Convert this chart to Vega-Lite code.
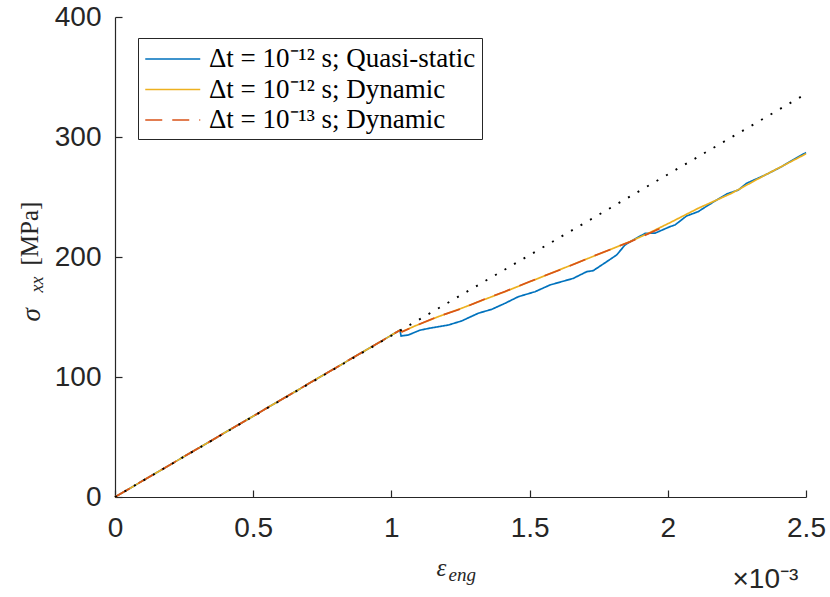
{
  "$schema": "https://vega.github.io/schema/vega-lite/v6.json",
  "width": 691,
  "height": 480,
  "autosize": {"type": "none"},
  "padding": {"left": 115, "top": 17, "right": 24, "bottom": 100},
  "background": "white",
  "config": {
    "view": {"stroke": null},
    "axis": {"grid": false, "domainColor": "#262626", "tickColor": "#262626", "labelColor": "#262626", "titleColor": "#262626", "domainWidth": 1.2, "tickWidth": 1.2},
    "legend": {
      "orient": "none", "legendX": 23, "legendY": 21, "title": null,
      "symbolType": "M-1,0L3,0", "symbolSize": 756, "symbolStrokeWidth": 1.6,
      "labelFont": "Liberation Serif", "labelFontSize": 27, "labelColor": "#000000", "labelLimit": 0, "labelOffset": 35,
      "padding": 6, "rowPadding": 2.5, "strokeColor": "#262626", "fillColor": "white"
    }
  },
  "datasets": {
    "curves": [
      {"series": "Δt = 10⁻¹² s; Quasi-static", "strain": 0, "stress": 0},
      {"series": "Δt = 10⁻¹² s; Quasi-static", "strain": 1.031, "stress": 139.0},
      {"series": "Δt = 10⁻¹² s; Quasi-static", "strain": 1.035, "stress": 134.2},
      {"series": "Δt = 10⁻¹² s; Quasi-static", "strain": 1.061, "stress": 135.0},
      {"series": "Δt = 10⁻¹² s; Quasi-static", "strain": 1.103, "stress": 139.0},
      {"series": "Δt = 10⁻¹² s; Quasi-static", "strain": 1.146, "stress": 141.0},
      {"series": "Δt = 10⁻¹² s; Quasi-static", "strain": 1.206, "stress": 143.3},
      {"series": "Δt = 10⁻¹² s; Quasi-static", "strain": 1.254, "stress": 146.7},
      {"series": "Δt = 10⁻¹² s; Quasi-static", "strain": 1.314, "stress": 153.1},
      {"series": "Δt = 10⁻¹² s; Quasi-static", "strain": 1.363, "stress": 156.4},
      {"series": "Δt = 10⁻¹² s; Quasi-static", "strain": 1.411, "stress": 161.4},
      {"series": "Δt = 10⁻¹² s; Quasi-static", "strain": 1.459, "stress": 166.9},
      {"series": "Δt = 10⁻¹² s; Quasi-static", "strain": 1.52, "stress": 171.1},
      {"series": "Δt = 10⁻¹² s; Quasi-static", "strain": 1.574, "stress": 176.7},
      {"series": "Δt = 10⁻¹² s; Quasi-static", "strain": 1.658, "stress": 182.2},
      {"series": "Δt = 10⁻¹² s; Quasi-static", "strain": 1.707, "stress": 187.8},
      {"series": "Δt = 10⁻¹² s; Quasi-static", "strain": 1.73, "stress": 188.6},
      {"series": "Δt = 10⁻¹² s; Quasi-static", "strain": 1.779, "stress": 196.1},
      {"series": "Δt = 10⁻¹² s; Quasi-static", "strain": 1.815, "stress": 201.7},
      {"series": "Δt = 10⁻¹² s; Quasi-static", "strain": 1.845, "stress": 210.0},
      {"series": "Δt = 10⁻¹² s; Quasi-static", "strain": 1.875, "stress": 214.2},
      {"series": "Δt = 10⁻¹² s; Quasi-static", "strain": 1.918, "stress": 219.7},
      {"series": "Δt = 10⁻¹² s; Quasi-static", "strain": 1.954, "stress": 219.9},
      {"series": "Δt = 10⁻¹² s; Quasi-static", "strain": 2.008, "stress": 225.3},
      {"series": "Δt = 10⁻¹² s; Quasi-static", "strain": 2.026, "stress": 226.7},
      {"series": "Δt = 10⁻¹² s; Quasi-static", "strain": 2.068, "stress": 234.2},
      {"series": "Δt = 10⁻¹² s; Quasi-static", "strain": 2.11, "stress": 237.8},
      {"series": "Δt = 10⁻¹² s; Quasi-static", "strain": 2.147, "stress": 243.3},
      {"series": "Δt = 10⁻¹² s; Quasi-static", "strain": 2.213, "stress": 252.5},
      {"series": "Δt = 10⁻¹² s; Quasi-static", "strain": 2.255, "stress": 255.8},
      {"series": "Δt = 10⁻¹² s; Quasi-static", "strain": 2.285, "stress": 261.4},
      {"series": "Δt = 10⁻¹² s; Quasi-static", "strain": 2.352, "stress": 268.3},
      {"series": "Δt = 10⁻¹² s; Quasi-static", "strain": 2.376, "stress": 271.1},
      {"series": "Δt = 10⁻¹² s; Quasi-static", "strain": 2.412, "stress": 275.3},
      {"series": "Δt = 10⁻¹² s; Quasi-static", "strain": 2.448, "stress": 280.3},
      {"series": "Δt = 10⁻¹² s; Quasi-static", "strain": 2.5, "stress": 287.0},

      {"series": "Δt = 10⁻¹² s; Dynamic", "strain": 0, "stress": 0},
      {"series": "Δt = 10⁻¹² s; Dynamic", "strain": 1.031, "stress": 139.0},
      {"series": "Δt = 10⁻¹² s; Dynamic", "strain": 1.039, "stress": 137.8},
      {"series": "Δt = 10⁻¹² s; Dynamic", "strain": 1.085, "stress": 142.5},
      {"series": "Δt = 10⁻¹² s; Dynamic", "strain": 1.17, "stress": 150.3},
      {"series": "Δt = 10⁻¹² s; Dynamic", "strain": 1.254, "stress": 157.3},
      {"series": "Δt = 10⁻¹² s; Dynamic", "strain": 1.339, "stress": 164.8},
      {"series": "Δt = 10⁻¹² s; Dynamic", "strain": 1.411, "stress": 171.1},
      {"series": "Δt = 10⁻¹² s; Dynamic", "strain": 1.501, "stress": 179.4},
      {"series": "Δt = 10⁻¹² s; Dynamic", "strain": 1.622, "stress": 190.6},
      {"series": "Δt = 10⁻¹² s; Dynamic", "strain": 1.743, "stress": 201.7},
      {"series": "Δt = 10⁻¹² s; Dynamic", "strain": 1.863, "stress": 212.8},
      {"series": "Δt = 10⁻¹² s; Dynamic", "strain": 1.93, "stress": 219.8},
      {"series": "Δt = 10⁻¹² s; Dynamic", "strain": 2.008, "stress": 228.6},
      {"series": "Δt = 10⁻¹² s; Dynamic", "strain": 2.11, "stress": 240.6},
      {"series": "Δt = 10⁻¹² s; Dynamic", "strain": 2.231, "stress": 253.1},
      {"series": "Δt = 10⁻¹² s; Dynamic", "strain": 2.352, "stress": 268.3},
      {"series": "Δt = 10⁻¹² s; Dynamic", "strain": 2.5, "stress": 286.0},

      {"series": "Δt = 10⁻¹³ s; Dynamic", "strain": 0, "stress": 0},
      {"series": "Δt = 10⁻¹³ s; Dynamic", "strain": 1.031, "stress": 139.0},
      {"series": "Δt = 10⁻¹³ s; Dynamic", "strain": 1.039, "stress": 137.6},
      {"series": "Δt = 10⁻¹³ s; Dynamic", "strain": 1.085, "stress": 142.4},
      {"series": "Δt = 10⁻¹³ s; Dynamic", "strain": 1.17, "stress": 150.5},
      {"series": "Δt = 10⁻¹³ s; Dynamic", "strain": 1.254, "stress": 157.0},
      {"series": "Δt = 10⁻¹³ s; Dynamic", "strain": 1.339, "stress": 165.0},
      {"series": "Δt = 10⁻¹³ s; Dynamic", "strain": 1.411, "stress": 171.3},
      {"series": "Δt = 10⁻¹³ s; Dynamic", "strain": 1.501, "stress": 179.6},
      {"series": "Δt = 10⁻¹³ s; Dynamic", "strain": 1.622, "stress": 190.4},
      {"series": "Δt = 10⁻¹³ s; Dynamic", "strain": 1.743, "stress": 201.9},
      {"series": "Δt = 10⁻¹³ s; Dynamic", "strain": 1.863, "stress": 212.6},
      {"series": "Δt = 10⁻¹³ s; Dynamic", "strain": 1.97, "stress": 223.5}
    ],
    "elastic": [
      {"strain": 0, "stress": 0},
      {"strain": 2.5, "stress": 336}
    ]
  },
  "layer": [
    {
      "data": {"name": "curves"},
      "transform": [{"filter": {"field": "series", "oneOf": ["Δt = 10⁻¹² s; Quasi-static", "Δt = 10⁻¹² s; Dynamic"]}}],
      "mark": {"type": "line", "strokeWidth": 1.7},
      "encoding": {
        "x": {"field": "strain", "type": "quantitative", "scale": {"domain": [0, 2.5], "nice": false},
          "axis": {"orient": "bottom", "offset": -7, "domain": false, "ticks": true, "tickSize": 7, "labels": false,
            "values": [0, 0.5, 1, 1.5, 2, 2.5],
            "title": "eng", "titleFont": "Liberation Serif", "titleFontStyle": "italic", "titleFontWeight": "normal", "titleFontSize": 19,
            "titleX": 333, "titleY": 90, "titleAlign": "left", "titleBaseline": "alphabetic"}},
        "y": {"field": "stress", "type": "quantitative", "scale": {"domain": [0, 400], "nice": false},
          "axis": {"orient": "left", "offset": -7, "domain": false, "ticks": true, "tickSize": 7, "labels": false,
            "values": [0, 100, 200, 300, 400],
            "title": "xx", "titleFont": "Liberation Serif", "titleFontStyle": "italic", "titleFontWeight": "normal", "titleFontSize": 18,
            "titleAngle": 270, "titleX": -80, "titleY": 275, "titleAlign": "left", "titleBaseline": "alphabetic"}},
        "color": {"field": "series", "type": "nominal",
          "scale": {"domain": ["Δt = 10⁻¹² s; Quasi-static", "Δt = 10⁻¹² s; Dynamic", "Δt = 10⁻¹³ s; Dynamic"], "range": ["#0072BD", "#EDB120", "#D95319"]}},
        "strokeDash": {"field": "series", "type": "nominal",
          "scale": {"domain": ["Δt = 10⁻¹² s; Quasi-static", "Δt = 10⁻¹² s; Dynamic", "Δt = 10⁻¹³ s; Dynamic"], "range": [[1, 0], [1, 0], [17, 10]]}}
      }
    },
    {
      "data": {"name": "curves"},
      "transform": [{"filter": {"field": "series", "equal": "Δt = 10⁻¹³ s; Dynamic"}}],
      "mark": {"type": "line", "strokeWidth": 1.7},
      "encoding": {
        "x": {"field": "strain", "type": "quantitative",
          "axis": {"orient": "bottom", "domain": false, "ticks": false, "labels": false, "title": "×10⁻³",
            "titleFont": "Liberation Sans", "titleFontWeight": "normal", "titleFontSize": 28,
            "titleX": 617, "titleY": 90, "titleAlign": "left", "titleBaseline": "alphabetic"}},
        "y": {"field": "stress", "type": "quantitative",
          "axis": {"orient": "left", "domain": false, "ticks": false, "labels": false, "title": "[MPa]",
            "titleFont": "Liberation Serif", "titleFontWeight": "normal", "titleFontSize": 25,
            "titleAngle": 270, "titleX": -78, "titleY": 248, "titleAlign": "left", "titleBaseline": "alphabetic"}},
        "color": {"field": "series", "type": "nominal"},
        "strokeDash": {"field": "series", "type": "nominal"}
      }
    },
    {
      "data": {"name": "elastic"},
      "mark": {"type": "line", "color": "#000000", "strokeWidth": 1.9, "strokeDash": [2, 9]},
      "encoding": {
        "x": {"field": "strain", "type": "quantitative",
          "axis": {"orient": "bottom", "values": [0, 0.5, 1, 1.5, 2, 2.5], "format": "~g",
            "labelFont": "Liberation Sans", "labelFontSize": 28, "labelPadding": 17, "ticks": false, "tickSize": 0, "labelFlush": false,
            "title": "ε", "titleFont": "Liberation Serif", "titleFontStyle": "italic", "titleFontWeight": "normal", "titleFontSize": 25,
            "titleX": 321, "titleY": 78, "titleAlign": "left", "titleBaseline": "alphabetic"}},
        "y": {"field": "stress", "type": "quantitative",
          "axis": {"orient": "left", "values": [0, 100, 200, 300, 400],
            "labelFont": "Liberation Sans", "labelFontSize": 28, "labelPadding": 14, "ticks": false, "tickSize": 0, "labelFlush": false,
            "title": "σ", "titleFont": "Liberation Serif", "titleFontStyle": "italic", "titleFontWeight": "normal", "titleFontSize": 27,
            "titleAngle": 270, "titleX": -76, "titleY": 304, "titleAlign": "left", "titleBaseline": "alphabetic"}}
      }
    }
  ],
  "resolve": {"axis": {"x": "independent", "y": "independent"}}
}
